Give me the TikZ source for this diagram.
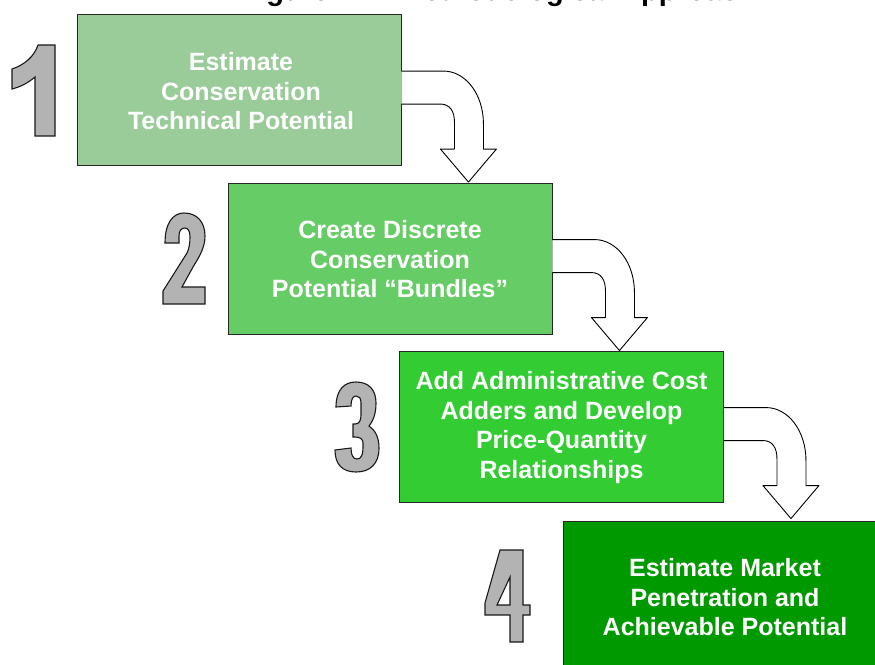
\documentclass[tikz,border=0pt]{standalone}
\usepackage{fontspec}
\setmainfont{Liberation Sans}

\definecolor{stageone}{HTML}{99CC99}
\definecolor{stagetwo}{HTML}{66CC66}
\definecolor{stagethree}{HTML}{33CC33}
\definecolor{stagefour}{HTML}{009900}
\definecolor{digitgray}{HTML}{B3B3B3}

% изогнутая стрелка от правого края блока к следующему блоку
\newcommand{\bendarrow}[1]{%
    \begin{scope}[shift={(#1.north east)}]
        \filldraw[turn] (0,57) -- (42,57) .. controls (64,57) and (82,80) .. (82,110)
            -- (82,135) -- (95,135) -- (67,168) -- (39,135) -- (53,135) -- (53,108)
            .. controls (53,98) and (49,90) .. (39,90) -- (0,90);
    \end{scope}}

\begin{document}
\begin{tikzpicture}[
        x=1pt, y=-1pt, % ось y вниз, как в пикселях
        stage/.style={draw=black!85, line width=0.9pt, minimum width=324pt, minimum height=151pt,
            text=white, align=center, font=\bfseries\fontsize{25}{29.5}\selectfont}, % блоки этапов
        turn/.style={fill=white, draw=black, line width=0.9pt, line join=round}, % стрелки
        digit/.style={fill=digitgray, draw=black!90, line width=1.1pt, even odd rule}, % цифры
        title/.style={font=\bfseries\fontsize{29}{34}\selectfont, inner sep=0pt},
    ]
    \useasboundingbox (0,0) rectangle (875,664);
    \clip (0,0) rectangle (875,664);

    \node[title, anchor=base] (caption) at (498,0.5) {Figure 2-1: Methodological Approach};

    \node[stage, fill=stageone] (stage1) at (239,90) {};
    \node[stage, fill=stagetwo] (stage2) at (390,258.5) {};
    \node[stage, fill=stagethree] (stage3) at (561.5,426.5) {};
    \node[stage, fill=stagefour] (stage4) at (725,596.5) {};

    \node[stage, draw=none, xshift=2pt, yshift=-1.5pt] (text1) at (stage1) {Estimate\\Conservation\\Technical Potential};
    \node[stage, draw=none, yshift=-1pt] (text2) at (stage2) {Create Discrete\\Conservation\\Potential “Bundles”};
    \node[stage, draw=none, yshift=-1pt] (text3) at (stage3) {Add Administrative Cost\\Adders and Develop\\Price-Quantity\\Relationships};
    \node[stage, draw=none, yshift=-1pt] (text4) at (stage4) {Estimate Market\\Penetration and\\Achievable Potential};

    \bendarrow{stage1}
    \bendarrow{stage2}
    \bendarrow{stage3}

    % 1
    \begin{scope}[shift={(12,45)}]
        \path[digit] (26,0) -- (43,0) -- (43,91) -- (23,91) -- (23,32)
            .. controls (16,38) and (8,42) .. (0,44) -- (0,24)
            .. controls (12,20) and (22,12) .. (26,0) -- cycle;
    \end{scope}
    % 2
    \begin{scope}[shift={(163,213)}]
        \path[digit] (2,30) .. controls (2,10) and (10,0) .. (21,0)
            .. controls (34,0) and (42,9) .. (42,23) .. controls (42,35) and (36,44) .. (30,54)
            -- (19,74) -- (42,74) -- (42,91) -- (0,91) -- (0,78) -- (24,40)
            .. controls (26,36) and (27,30) .. (27,24) .. controls (27,18) and (25,15) .. (22,15)
            .. controls (18,15) and (16,18) .. (16,23) -- (16,30) -- cycle;
    \end{scope}
    % 3
    \begin{scope}[shift={(334,382)}]
        \path[digit] (2,25) .. controls (2,8) and (10,0) .. (22,0)
            .. controls (35,0) and (42,8) .. (42,21) .. controls (42,32) and (39,39) .. (35,44)
            .. controls (41,48) and (45,55) .. (45,66) .. controls (45,82) and (36,90) .. (22,90)
            .. controls (8,90) and (1,82) .. (1,68) -- (17,66)
            .. controls (17,73) and (19,77) .. (23,77) .. controls (27,77) and (29,73) .. (29,66)
            -- (29,61) .. controls (29,57) and (26,55) .. (21,55) -- (19,55) -- (19,42) -- (21,42)
            .. controls (25,42) and (27,39) .. (27,33) -- (27,21)
            .. controls (27,16) and (25,14) .. (22,14) .. controls (19,14) and (17,17) .. (17,24) -- cycle;
    \end{scope}
    % 4
    \begin{scope}[shift={(485,550)}]
        \path[digit] (15,0) -- (38,0) -- (38,55) -- (45,55) -- (45,65) -- (38,65) -- (38,92)
            -- (25,92) -- (25,65) -- (0,65) -- (0,53) -- cycle
            (25,27) -- (25,55) -- (12,55) -- cycle;
    \end{scope}
\end{tikzpicture}
\end{document}
